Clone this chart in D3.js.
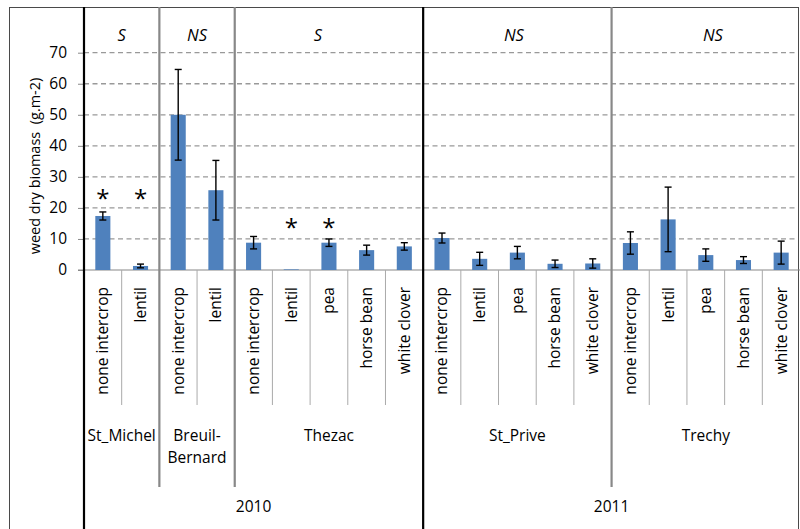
<!DOCTYPE html>
<html>
<head>
<meta charset="utf-8">
<script src="https://cdn.jsdelivr.net/npm/d3@7"></script>
<style>
  html, body { margin: 0; padding: 0; background: #fff; }
  svg { display: block; font-family: "Open Sans", sans-serif; }
</style>
</head>
<body>
<svg id="chart" width="800" height="529"></svg>
<script>
// ---- data ----
const sites = ["St_Michel", "Breuil-Bernard", "Thezac", "St_Prive", "Trechy"];
const siteYears = ["2010", "2010", "2010", "2011", "2011"];
const years = ["2010", "2011"];
const siteTreatments = [
  ["none intercrop", "lentil"],
  ["none intercrop", "lentil"],
  ["none intercrop", "lentil", "pea", "horse bean", "white clover"],
  ["none intercrop", "lentil", "pea", "horse bean", "white clover"],
  ["none intercrop", "lentil", "pea", "horse bean", "white clover"]
];
const means = [17.4, 1.3, 50.0, 25.7, 8.8, 0.2, 8.8, 6.4, 7.6, 10.3, 3.6, 5.6, 2.0, 2.1, 8.7, 16.3, 4.8, 3.2, 5.6];
const errors = [1.3, 0.6, 14.6, 9.6, 2.0, 0, 1.2, 1.6, 1.2, 1.6, 2.1, 2.0, 1.2, 1.5, 3.6, 10.4, 2.0, 1.1, 3.7];
const sigLabels = ["S", "NS", "S", "NS", "NS"];
const sigPositions = [1.0, 3.0, 6.21, 11.41, 16.69]; // in category units
const starCategories = [0, 1, 5, 6];
const starLevels = [25.2, 25.2, 15.6, 15.6];
const yTicks = [0, 10, 20, 30, 40, 50, 60, 70];
const yTitle = "weed dry biomass  (g.m-2)";

// ---- derived ----
const categories = [];
const siteIndexOf = [];
siteTreatments.forEach((ts, si) => ts.forEach(t => { categories.push(t); siteIndexOf.push(si); }));
const n = categories.length;

const svg = d3.select("#chart");
const W = 800, H = 529;
const left = 84, right = 800, frameTop = 7;
const y0 = 270, yTop = 52.7;
const textColor = "#000";

const x = d3.scaleLinear().domain([0, n]).range([left, right]);
const step = x(1) - x(0);
const y = d3.scaleLinear().domain([0, 70]).range([y0, yTop]);

// outer frame
svg.append("rect").attr("x", 9.5).attr("y", frameTop + 0.5).attr("width", 789).attr("height", 600)
  .attr("fill", "#fff").attr("stroke", "#4a4a4a").attr("stroke-width", 1);

// gridlines
svg.append("g").selectAll("line").data(yTicks.filter(d => d > 0)).join("line")
  .attr("x1", left).attr("x2", right - 4)
  .attr("y1", d => y(d)).attr("y2", d => y(d))
  .attr("stroke", "#999").attr("stroke-width", 1.3).attr("stroke-dasharray", "5,3.5");

// y axis
const yAxis = d3.axisLeft(y).tickValues(yTicks).tickSize(6).tickPadding(11);
const gy = svg.append("g").attr("transform", `translate(${left},0)`).call(yAxis);
gy.select(".domain").remove();
gy.selectAll(".tick line").attr("stroke", "#888");
gy.selectAll(".tick text").attr("font-family", "Open Sans").attr("font-size", 15.5).attr("fill", textColor);

// x axis baseline
svg.append("line").attr("x1", left - 6).attr("x2", right).attr("y1", y0).attr("y2", y0)
  .attr("stroke", "#888").attr("stroke-width", 1.2);

// y title
svg.append("text").attr("transform", `translate(40,${166}) rotate(-90)`)
  .attr("text-anchor", "middle").attr("font-size", 14.5).attr("fill", textColor)
  .style("white-space", "pre").text(yTitle);

// boundaries
const boundaries = d3.range(1, n);
const siteStarts = [];
{ let c = 0; siteTreatments.forEach(ts => { siteStarts.push(c); c += ts.length; }); }
const siteBoundaries = siteStarts.slice(1);
const yearBoundary = siteYears.indexOf("2011");
const yearBoundaryCat = siteStarts[yearBoundary];

svg.append("g").selectAll("line").data(boundaries.filter(b => !siteBoundaries.includes(b))).join("line")
  .attr("x1", d => x(d)).attr("x2", d => x(d)).attr("y1", y0).attr("y2", 405)
  .attr("stroke", "#aaa").attr("stroke-width", 1);

// bars
svg.append("g").selectAll("rect").data(means).join("rect")
  .attr("x", (d, i) => x(i + 0.5) - step * 0.2)
  .attr("width", step * 0.4)
  .attr("y", d => y(d))
  .attr("height", d => y0 - y(d))
  .attr("fill", "#4f81bd");

// error bars
const eg = svg.append("g").attr("stroke", "#000").attr("stroke-width", 1.4);
means.forEach((m, i) => {
  if (!errors[i]) return;
  const cx = x(i + 0.5);
  const t = y(m + errors[i]), b = y(Math.max(0, m - errors[i]));
  eg.append("line").attr("x1", cx).attr("x2", cx).attr("y1", t).attr("y2", b);
  eg.append("line").attr("x1", cx - 3.5).attr("x2", cx + 3.5).attr("y1", t).attr("y2", t);
  eg.append("line").attr("x1", cx - 3.5).attr("x2", cx + 3.5).attr("y1", b).attr("y2", b);
});

// site separators (grey) and year separator / left axis (black)
svg.append("g").selectAll("line").data(siteBoundaries.filter(b => b !== yearBoundaryCat)).join("line")
  .attr("x1", d => x(d)).attr("x2", d => x(d)).attr("y1", frameTop).attr("y2", 487)
  .attr("stroke", "#888").attr("stroke-width", 2.2);
svg.append("g").selectAll("line").data([0, yearBoundaryCat]).join("line")
  .attr("x1", d => x(d)).attr("x2", d => x(d)).attr("y1", frameTop).attr("y2", H)
  .attr("stroke", "#000").attr("stroke-width", 2.2);

// significance labels
svg.append("g").selectAll("text").data(sigLabels).join("text")
  .attr("x", (d, i) => x(sigPositions[i])).attr("y", 41)
  .attr("text-anchor", "middle").attr("font-style", "italic").attr("font-size", 16.5).attr("fill", textColor)
  .text(d => d);

// asterisks
svg.append("g").selectAll("text").data(starCategories).join("text")
  .attr("x", d => x(d + 0.5)).attr("y", (d, i) => y(starLevels[i]))
  .attr("dy", "0.62em")
  .attr("text-anchor", "middle").attr("font-size", 24).attr("fill", textColor)
  .text("*");

// category labels (rotated)
svg.append("g").selectAll("text").data(categories).join("text")
  .attr("transform", (d, i) => `translate(${x(i + 0.5)},287) rotate(-90)`)
  .attr("text-anchor", "end").attr("dy", "0.35em")
  .attr("font-size", 15.5).attr("fill", textColor)
  .text(d => d);

// site labels
sites.forEach((s, si) => {
  const c0 = siteStarts[si], c1 = c0 + siteTreatments[si].length;
  const cx = x((c0 + c1) / 2);
  const parts = s.includes("-") ? [s.slice(0, s.indexOf("-") + 1), s.slice(s.indexOf("-") + 1)] : [s];
  const t = svg.append("text").attr("x", cx).attr("y", 441).attr("text-anchor", "middle")
    .attr("font-size", 15.5).attr("fill", textColor);
  parts.forEach((p, k) => t.append("tspan").attr("x", cx).attr("dy", k === 0 ? 0 : 22).text(p));
});

// year labels
years.forEach(yr => {
  const idx = siteYears.map((v, i) => v === yr ? i : -1).filter(i => i >= 0);
  const c0 = siteStarts[idx[0]];
  const last = idx[idx.length - 1];
  const c1 = siteStarts[last] + siteTreatments[last].length;
  svg.append("text").attr("x", x((c0 + c1) / 2)).attr("y", 512).attr("text-anchor", "middle")
    .attr("font-size", 15.5).attr("fill", textColor).text(yr);
});
</script>
</body>
</html>
